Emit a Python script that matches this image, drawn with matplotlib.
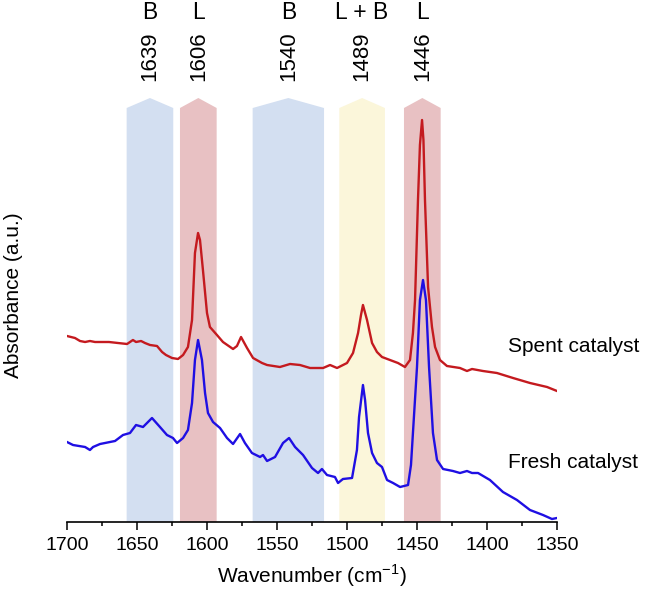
import matplotlib
matplotlib.use("Agg")
import matplotlib.pyplot as plt
from matplotlib.patches import Polygon
from matplotlib.ticker import MultipleLocator

plt.rcParams['font.family'] = ['Liberation Sans', 'DejaVu Sans']

# ---- data ----
spent_wn = [1700.0, 1694.3, 1690.7, 1687.1, 1683.6, 1680.0, 1676.4, 1670.0, 1663.6, 1657.1,
            1652.9, 1650.7, 1647.1, 1644.3, 1640.7, 1635.7, 1632.1, 1629.3, 1625.0, 1620.7,
            1617.1, 1613.6, 1610.7, 1608.6, 1606.4, 1605.0, 1602.9, 1600.0, 1597.9, 1592.9,
            1588.6, 1581.4, 1578.6, 1575.7, 1571.4, 1567.1, 1560.7, 1557.1, 1547.9, 1540.7,
            1533.6, 1526.4, 1517.1, 1512.1, 1507.1, 1500.0, 1495.7, 1492.1, 1490.0, 1488.6,
            1485.7, 1482.1, 1478.6, 1475.0, 1469.3, 1463.6, 1458.6, 1455.0, 1452.9, 1451.4,
            1449.3, 1447.9, 1446.4, 1445.4, 1444.3, 1442.1, 1439.3, 1437.1, 1433.6, 1428.6,
            1419.3, 1414.3, 1410.7, 1402.9, 1392.9, 1381.4, 1369.3, 1357.1, 1350.0]
spent_abs = [1.84, 1.82, 1.79, 1.78, 1.79, 1.78, 1.78, 1.78, 1.77, 1.76,
             1.80, 1.78, 1.79, 1.77, 1.75, 1.74, 1.68, 1.65, 1.62, 1.61,
             1.65, 1.73, 2.00, 2.67, 2.87, 2.80, 2.50, 2.07, 1.93, 1.85,
             1.78, 1.71, 1.74, 1.83, 1.72, 1.62, 1.57, 1.55, 1.53, 1.56,
             1.55, 1.52, 1.52, 1.55, 1.52, 1.57, 1.67, 1.87, 2.05, 2.15,
             2.00, 1.77, 1.68, 1.63, 1.60, 1.57, 1.53, 1.60, 1.87, 2.20,
             3.20, 3.75, 4.00, 3.80, 3.20, 2.33, 1.93, 1.73, 1.60, 1.54,
             1.52, 1.49, 1.51, 1.49, 1.47, 1.42, 1.37, 1.33, 1.29]

fresh_wn = [1700.0, 1695.7, 1687.1, 1683.6, 1681.4, 1676.4, 1669.3, 1665.7, 1660.0, 1655.0,
            1650.7, 1645.7, 1639.3, 1633.6, 1628.6, 1624.3, 1621.4, 1617.1, 1613.6, 1610.7,
            1608.6, 1606.4, 1603.6, 1601.4, 1599.3, 1595.7, 1590.7, 1585.7, 1581.4, 1576.4,
            1572.9, 1567.9, 1562.1, 1560.0, 1557.1, 1551.4, 1545.7, 1541.4, 1537.1, 1531.4,
            1525.0, 1520.7, 1517.9, 1514.3, 1508.6, 1506.4, 1502.9, 1496.4, 1492.9, 1491.4,
            1488.6, 1487.1, 1485.0, 1482.1, 1478.6, 1475.0, 1471.4, 1467.1, 1462.1, 1456.4,
            1454.3, 1452.9, 1450.0, 1447.9, 1445.7, 1443.6, 1441.4, 1438.6, 1435.7, 1431.4,
            1424.3, 1419.3, 1414.3, 1410.7, 1406.4, 1397.9, 1388.6, 1378.6, 1369.3, 1360.0,
            1353.6, 1350.0]
fresh_abs = [0.78, 0.75, 0.73, 0.70, 0.73, 0.76, 0.78, 0.79, 0.85, 0.87,
             0.95, 0.93, 1.02, 0.93, 0.85, 0.82, 0.77, 0.82, 0.90, 1.17,
             1.60, 1.80, 1.60, 1.27, 1.07, 0.98, 0.92, 0.82, 0.76, 0.86,
             0.77, 0.67, 0.63, 0.65, 0.59, 0.63, 0.77, 0.82, 0.73, 0.65,
             0.52, 0.47, 0.51, 0.45, 0.43, 0.37, 0.41, 0.42, 0.70, 1.03,
             1.35, 1.20, 0.87, 0.67, 0.57, 0.53, 0.40, 0.37, 0.33, 0.35,
             0.55, 0.87, 1.53, 2.20, 2.40, 2.20, 1.53, 0.87, 0.60, 0.51,
             0.49, 0.47, 0.49, 0.47, 0.47, 0.40, 0.28, 0.20, 0.10, 0.05,
             0.01, 0.02]

band_site = ["B", "L", "B", "L + B", "L"]
band_label = ["1639", "1606", "1540", "1489", "1446"]
band_hi = [1657.4, 1619.3, 1567.4, 1505.5, 1459.3]
band_lo = [1624.1, 1593.1, 1516.4, 1472.9, 1433.1]
band_kind = ["B", "L", "B", "LB", "L"]

band_colors = {"B": "#d3dff1", "L": "#e8c1c3", "LB": "#fbf6da"}

# ---- figure ----
W, H = 647, 597
fig = plt.figure(figsize=(W / 100, H / 100), dpi=100)
ax = fig.add_axes([67 / W, (H - 522) / H, 490 / W, 424 / H])

y_bot, y_top = -0.02, 4.22
shoulder = 4.12

for lo, hi, kind in zip(band_lo, band_hi, band_kind):
    c = (lo + hi) / 2
    poly = Polygon([(hi, y_bot), (hi, shoulder), (c, y_top), (lo, shoulder), (lo, y_bot)],
                   closed=True, facecolor=band_colors[kind], edgecolor='none',
                   zorder=1, clip_on=False)
    ax.add_patch(poly)

ax.plot(spent_wn, spent_abs, color="#c41a1f", lw=1.7, zorder=3)
ax.plot(fresh_wn, fresh_abs, color="#1f0fe3", lw=1.7, zorder=3)

for lo, hi, site, lab in zip(band_lo, band_hi, band_site, band_label):
    c = (lo + hi) / 2
    ax.text(c, 5.07, site, ha='center', va='center', fontsize=16.5, clip_on=False)
    ax.text(c, 4.64, lab, ha='center', va='center', rotation=90, fontsize=16, clip_on=False)

ax.text(1385, 1.73, "Spent catalyst", ha='left', va='center', fontsize=15, clip_on=False)
ax.text(1385, 0.58, "Fresh catalyst", ha='left', va='center', fontsize=15, clip_on=False)

ax.set_xlim(1700, 1350)
ax.set_ylim(y_bot, y_top)
ax.xaxis.set_major_locator(MultipleLocator(50))
ax.xaxis.set_minor_locator(MultipleLocator(25))
ax.tick_params(axis='x', which='major', direction='out', length=5.5, width=1.1,
               labelsize=14, pad=5, color='black')
ax.tick_params(axis='x', which='minor', direction='out', length=3, width=1.1)
ax.set_yticks([])
for s in ['top', 'right', 'left']:
    ax.spines[s].set_visible(False)
ax.spines['bottom'].set_linewidth(1.2)
ax.spines['bottom'].set_zorder(4)

ax.set_xlabel("Wavenumber (cm$^{\\mathregular{-1}}$)", fontsize=15, labelpad=6)
fig.text(14 / W, 1 - 295 / H, "Absorbance (a.u.)", rotation=90, ha='center', va='center',
         fontsize=15)

fig.savefig("out.png", dpi=100)
